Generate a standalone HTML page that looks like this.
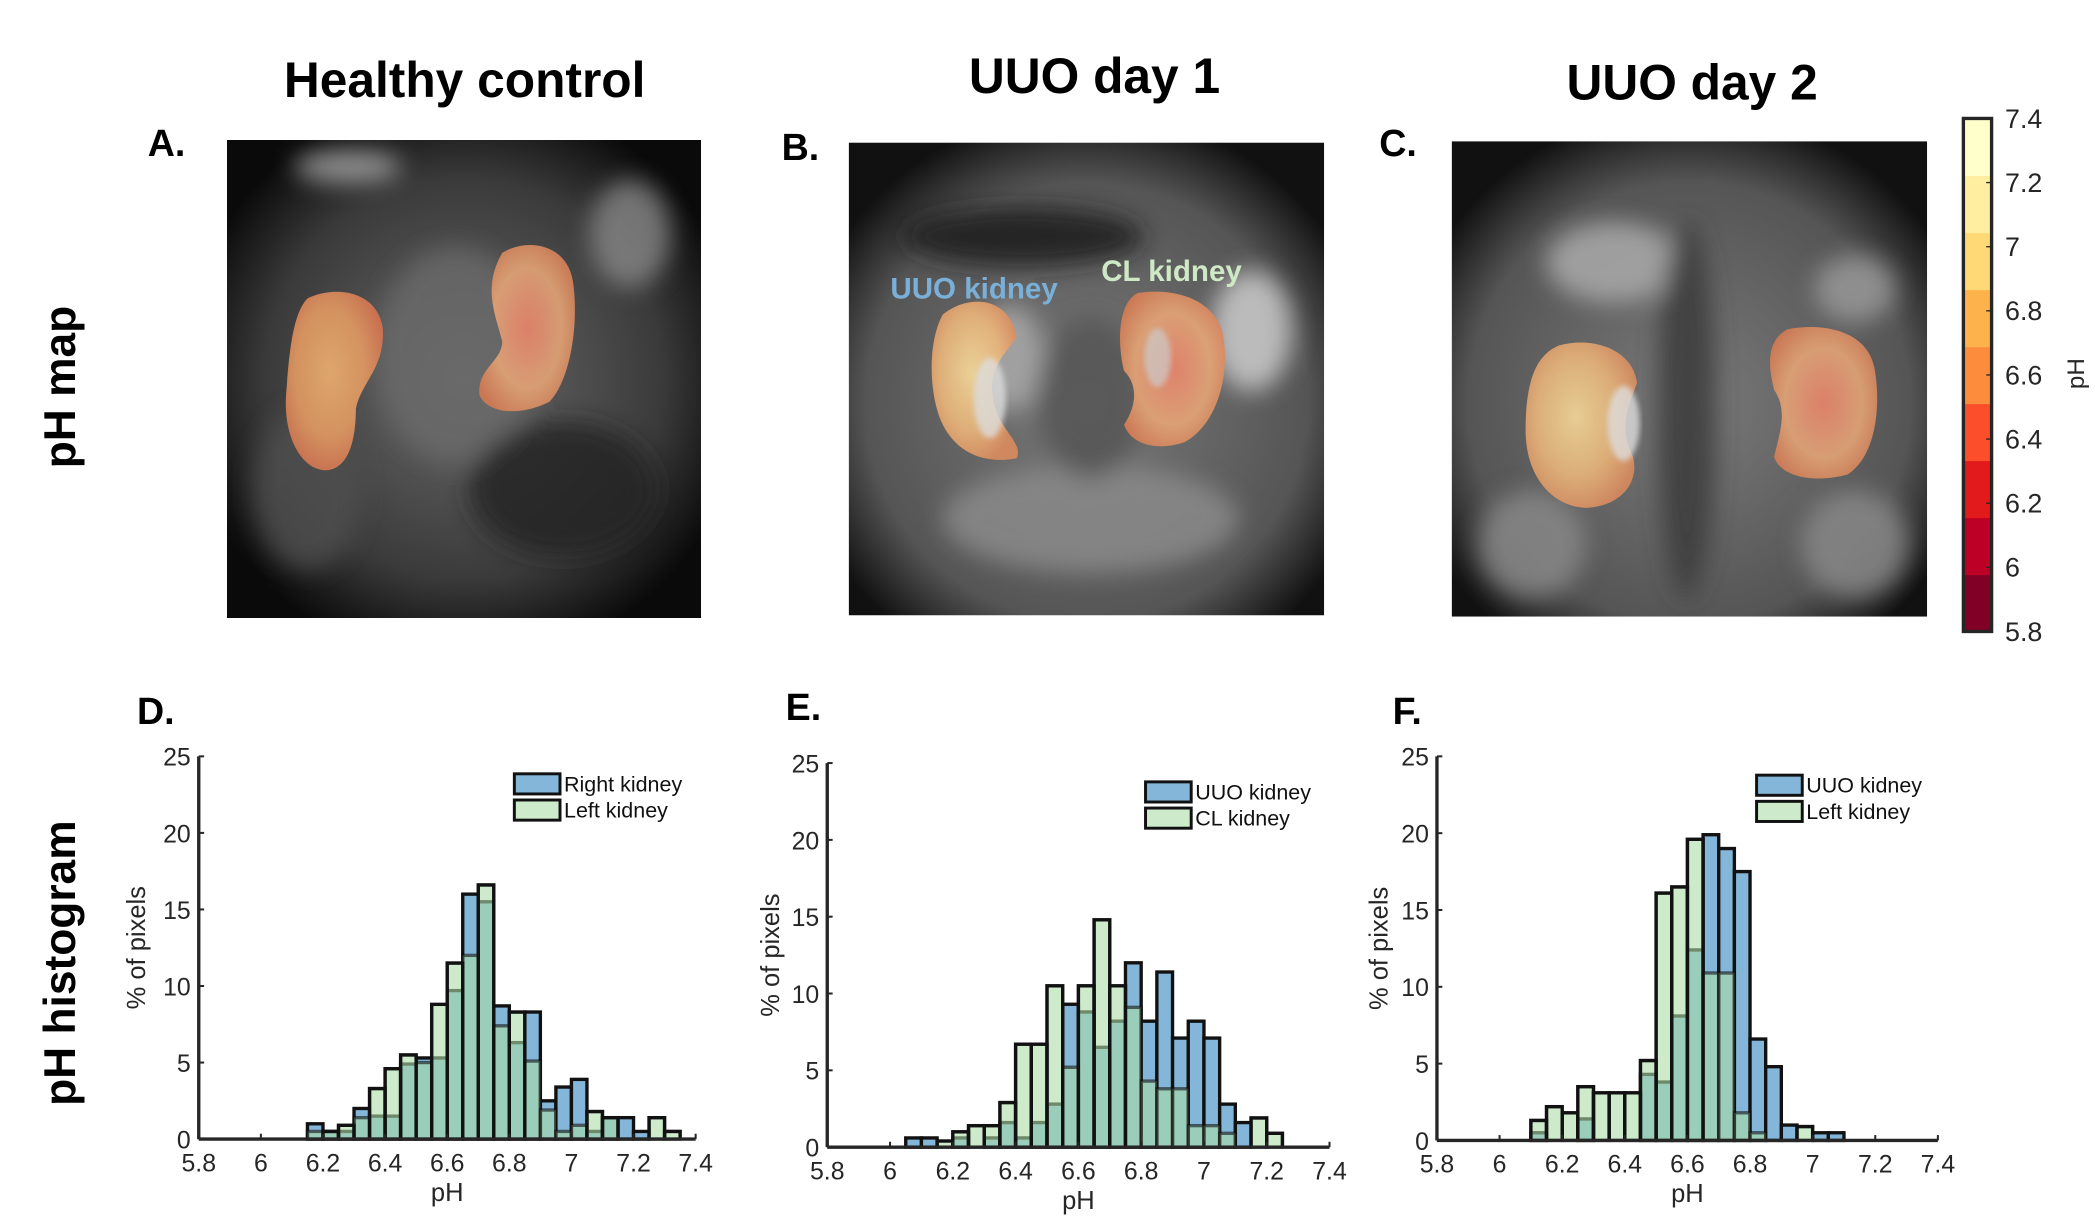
<!DOCTYPE html>
<html><head><meta charset="utf-8"><style>
html,body{margin:0;padding:0;background:#fff;}
svg{display:block;font-family:"Liberation Sans",Arial,sans-serif;}
</style></head><body>
<svg id="fig" width="2095" height="1228" viewBox="0 0 1560 914" xmlns="http://www.w3.org/2000/svg">
<defs>
<filter id="bl" x="-20%" y="-20%" width="140%" height="140%"><feGaussianBlur stdDeviation="9"/></filter>
<filter id="bl2"><feGaussianBlur stdDeviation="2"/></filter>
<radialGradient id="fogA" cx="50%" cy="50%" r="60%"><stop offset="0" stop-color="#6a6a6a"/><stop offset="0.7" stop-color="#3a3a3a"/><stop offset="1" stop-color="#0a0a0a"/></radialGradient>
<radialGradient id="fogB" cx="50%" cy="55%" r="62%"><stop offset="0" stop-color="#7a7a7a"/><stop offset="0.75" stop-color="#555"/><stop offset="1" stop-color="#111"/></radialGradient>
<radialGradient id="kid" cx="45%" cy="45%" r="60%"><stop offset="0" stop-color="#f4d898"/><stop offset="0.6" stop-color="#e9b57a"/><stop offset="1" stop-color="#d98a5e"/></radialGradient>
<radialGradient id="kidA" cx="45%" cy="45%" r="60%"><stop offset="0" stop-color="#eeb070"/><stop offset="0.6" stop-color="#e39a62"/><stop offset="1" stop-color="#d4704e"/></radialGradient>
<radialGradient id="kid2" cx="50%" cy="50%" r="60%"><stop offset="0" stop-color="#e9836a"/><stop offset="0.6" stop-color="#e4a476"/><stop offset="1" stop-color="#d47a52"/></radialGradient>
</defs>

<text x="346" y="72" font-size="37" font-weight="bold" text-anchor="middle">Healthy control</text>
<text x="815" y="69" font-size="37" font-weight="bold" text-anchor="middle">UUO day 1</text>
<text x="1260" y="74" font-size="37" font-weight="bold" text-anchor="middle">UUO day 2</text>
<text x="56" y="288" font-size="33" font-weight="bold" text-anchor="middle" transform="rotate(-90 56 288)">pH map</text>
<text x="56" y="717" font-size="33" font-weight="bold" text-anchor="middle" transform="rotate(-90 56 717)">pH histogram</text>

<text x="110" y="116" font-size="28" font-weight="bold">A.</text>
<text x="582" y="119" font-size="28" font-weight="bold">B.</text>
<text x="1027" y="116" font-size="28" font-weight="bold">C.</text>
<text x="102" y="539" font-size="28" font-weight="bold">D.</text>
<text x="585" y="536" font-size="28" font-weight="bold">E.</text>
<text x="1037" y="539" font-size="28" font-weight="bold">F.</text>

<g>
<svg x="169" y="104" width="353" height="356" overflow="hidden">
<rect width="353" height="356" fill="url(#fogA)"/>
<g filter="url(#bl)" opacity="0.8">
<ellipse cx="90" cy="20" rx="40" ry="12" fill="#aaa"/>
<ellipse cx="300" cy="70" rx="30" ry="40" fill="#888"/>
<ellipse cx="170" cy="160" rx="60" ry="80" fill="#6a6a6a"/>
<ellipse cx="250" cy="260" rx="70" ry="50" fill="#222"/>
<ellipse cx="60" cy="260" rx="40" ry="60" fill="#505050"/>
</g>
<path d="M60 118 C80 108 112 112 116 140 C118 170 100 180 96 200 C96 225 90 245 74 246 C55 246 42 220 44 190 C46 165 48 130 60 118Z" fill="url(#kidA)" opacity="0.9"/>
<path d="M205 84 C225 72 255 78 258 108 C262 140 255 180 240 195 C220 205 195 205 188 190 C186 170 205 165 205 150 C200 130 190 110 205 84Z" fill="url(#kid2)" opacity="0.9"/>
</svg></g>

<g>
<svg x="632" y="106" width="354" height="352" overflow="hidden">
<rect width="354" height="352" fill="url(#fogB)"/>
<g filter="url(#bl)" opacity="0.85">
<ellipse cx="130" cy="70" rx="90" ry="22" fill="#1a1a1a"/>
<ellipse cx="300" cy="140" rx="30" ry="45" fill="#ccc"/>
<ellipse cx="120" cy="160" rx="25" ry="40" fill="#aaa"/>
<ellipse cx="180" cy="280" rx="110" ry="40" fill="#8a8a8a"/>
<ellipse cx="180" cy="190" rx="40" ry="60" fill="#555"/>
</g>
<path d="M70 128 C90 112 120 115 125 145 C115 160 100 170 110 200 C115 215 130 225 125 235 C100 240 80 230 70 210 C60 190 58 150 70 128Z" fill="url(#kid)" opacity="0.92"/>
<path d="M215 112 C240 108 270 115 278 140 C285 170 275 210 250 223 C230 230 210 225 205 210 C215 195 215 180 205 170 C200 150 200 120 215 112Z" fill="url(#kid2)" opacity="0.92"/>
<ellipse cx="105" cy="190" rx="12" ry="30" fill="#ddd" opacity="0.8" filter="url(#bl2)"/>
<ellipse cx="230" cy="160" rx="10" ry="22" fill="#ccc" opacity="0.7" filter="url(#bl2)"/>
</svg>
<text x="663" y="222" font-size="22" font-weight="bold" fill="#7ab0d8">UUO kidney</text>
<text x="820" y="209" font-size="22" font-weight="bold" fill="#cfe9c6">CL kidney</text>
</g>

<g>
<svg x="1081" y="105" width="354" height="354" overflow="hidden">
<rect width="354" height="354" fill="url(#fogB)"/>
<g filter="url(#bl)" opacity="0.85">
<ellipse cx="120" cy="90" rx="50" ry="30" fill="#aaa"/>
<ellipse cx="175" cy="200" rx="22" ry="140" fill="#3a3a3a"/>
<ellipse cx="60" cy="300" rx="40" ry="40" fill="#888"/>
<ellipse cx="300" cy="300" rx="40" ry="40" fill="#888"/>
<ellipse cx="300" cy="110" rx="30" ry="25" fill="#999"/>
</g>
<path d="M80 152 C105 145 135 155 138 180 C130 200 125 215 135 235 C140 255 125 272 100 273 C75 272 55 250 55 215 C55 185 60 160 80 152Z" fill="url(#kid)" opacity="0.9"/>
<path d="M250 140 C275 135 310 140 315 170 C320 200 315 235 295 248 C270 255 245 250 240 235 C245 215 250 200 240 185 C235 165 235 148 250 140Z" fill="url(#kid2)" opacity="0.9"/>
<ellipse cx="128" cy="210" rx="12" ry="28" fill="#ddd" opacity="0.8" filter="url(#bl2)"/>
</svg></g>

<g id="cbar"></g>
<g id="hists"></g>
</svg>

<script>
const NS = "http://www.w3.org/2000/svg";
const cbarColors = ["#800026","#bd0026","#e31a1c","#fc4e2a","#fd8d3c","#feb24c","#fed976","#ffeda0","#ffffcc"];
const cbarTicks = [5.8,6,6.2,6.4,6.6,6.8,7,7.2,7.4];
const binsD = [6.15,6.20,6.25,6.30,6.35,6.40,6.45,6.50,6.55,6.60,6.65,6.70,6.75,6.80,6.85,6.90,6.95,7.00,7.05,7.10,7.15,7.20,7.25,7.30];
const rightD = [1.0,0.5,0.5,2.0,1.5,1.5,4.9,5.3,5.3,9.7,16.0,15.5,8.7,6.3,8.3,2.5,3.4,3.9,0.5,1.4,1.4,0.5,0,0];
const leftD  = [0.5,0.5,0.9,1.4,3.3,4.6,5.5,5.0,8.8,11.5,12.0,16.6,7.4,8.3,5.1,1.9,0.5,0.9,1.8,1.4,0,0,1.4,0.5];
const binsE = [6.05,6.10,6.15,6.20,6.25,6.30,6.35,6.40,6.45,6.50,6.55,6.60,6.65,6.70,6.75,6.80,6.85,6.90,6.95,7.00,7.05,7.10,7.15,7.20];
const uuoE = [0.6,0.6,0,0.6,0,0.6,1.6,0.6,1.6,2.8,9.3,8.8,6.5,8.2,12.0,8.2,11.4,7.1,8.2,7.1,2.8,1.6,0,0];
const clE  = [0,0,0.4,1.0,1.4,1.4,2.9,6.7,6.7,10.5,5.2,10.5,14.8,10.5,9.1,4.3,3.8,3.8,1.4,1.4,0.9,0,1.9,0.9];
const binsF = [6.10,6.15,6.20,6.25,6.30,6.35,6.40,6.45,6.50,6.55,6.60,6.65,6.70,6.75,6.80,6.85,6.90,6.95,7.00,7.05];
const uuoF  = [0.5,0,0,1.4,0,0,0,4.3,3.8,8.1,12.4,19.9,19.0,17.5,6.6,4.8,1.0,0,0.5,0.5];
const leftF = [1.3,2.2,1.8,3.5,3.1,3.1,3.1,5.2,16.1,16.5,19.6,10.9,10.9,1.8,0.5,0,0,0.9,0,0];
const xTicks = [5.8,6,6.2,6.4,6.6,6.8,7,7.2,7.4];
const xTickLabels = ["5.8","6","6.2","6.4","6.6","6.8","7","7.2","7.4"];
const yTicks = [0,5,10,15,20,25];
const binWidth = 0.05;

function mk(tag, attrs, parent){const e=document.createElementNS(NS,tag);for(const k in attrs)e.setAttribute(k,attrs[k]);parent.appendChild(e);return e;}

(function(){
  const g=document.getElementById('cbar');
  const x0=1462,w=21,top=88,bot=470,vmin=5.8,vmax=7.4;
  const yc=v=>bot-(v-vmin)/(vmax-vmin)*(bot-top);
  const n=cbarColors.length, step=(vmax-vmin)/n;
  cbarColors.forEach((c,i)=>{
    const r=mk('rect',{x:x0,y:yc(vmin+(i+1)*step),width:w,height:yc(vmin+i*step)-yc(vmin+(i+1)*step)+0.5,fill:c},g);
    
    
  });
  mk('rect',{x:x0,y:top,width:w,height:bot-top,fill:'none',stroke:'#262626','stroke-width':2.5},g);
  cbarTicks.forEach(v=>{
    mk('line',{x1:x0+w-4,x2:x0+w,y1:yc(v),y2:yc(v),stroke:'#262626','stroke-width':1},g);
    const t=mk('text',{x:1493,y:yc(v)+7,'font-size':20,fill:'#262626'},g);
    t.textContent=String(v);
    
    
  });
  const t=mk('text',{x:1552,y:278,'font-size':18,fill:'#262626','text-anchor':'middle',transform:'rotate(-90 1552 278)'},g);
  t.textContent='pH';
  
  
})();

function hist(id, L, R, y0, y25, bins, blue, green, names, legX, legY, ylabX){
  const root=document.getElementById('hists');
  const g=mk('g',{},root);
  
  
  const xs=v=>L+(v-5.8)/1.6*(R-L);
  const ys=v=>y0-v/25*(y0-y25);
  bins.forEach((b,i)=>{ if(blue[i]<=0) return;
    const r=mk('rect',{x:xs(b),y:ys(blue[i]),width:xs(b+binWidth)-xs(b),height:ys(0)-ys(blue[i]),fill:'#83b6d8',stroke:'#111','stroke-width':2.5},g);
    
    
  });
  bins.forEach((b,i)=>{ if(green[i]<=0) return;
    const r=mk('rect',{x:xs(b),y:ys(green[i]),width:xs(b+binWidth)-xs(b),height:ys(0)-ys(green[i]),fill:'rgba(172,220,168,0.6)',stroke:'rgba(17,17,17,0.6)','stroke-width':2.5},g);
    
    
  });
  bins.forEach((b,i)=>{ if(green[i]<=0||green[i]<blue[i]) return;
    mk('polyline',{points:`${xs(b)},${ys(0)} ${xs(b)},${ys(green[i])} ${xs(b+binWidth)},${ys(green[i])} ${xs(b+binWidth)},${ys(0)}`,fill:'none',stroke:'#111','stroke-width':2.5},g);
  });
  mk('line',{x1:L,x2:R,y1:y0,y2:y0,stroke:'#262626','stroke-width':2.5},g);
  mk('line',{x1:L,x2:L,y1:y0,y2:y25,stroke:'#262626','stroke-width':2.5},g);
  xTicks.forEach((v,i)=>{
    mk('line',{x1:xs(v),x2:xs(v),y1:y0,y2:y0-4,stroke:'#262626','stroke-width':1.5},g);
    const t=mk('text',{x:xs(v),y:y0+24,'font-size':18.5,fill:'#262626','text-anchor':'middle'},g);
    t.textContent=xTickLabels[i];
    
    
  });
  yTicks.forEach(v=>{
    mk('line',{x1:L,x2:L+4,y1:ys(v),y2:ys(v),stroke:'#262626','stroke-width':1.5},g);
    const t=mk('text',{x:L-6,y:ys(v)+7,'font-size':18.5,fill:'#262626','text-anchor':'end'},g);
    t.textContent=String(v);
    
    
  });
  const xl=mk('text',{x:(L+R)/2,y:y0+46,'font-size':19,fill:'#262626','text-anchor':'middle'},g);
  xl.textContent='pH';
  
  
  const ym=(y0+y25)/2;
  const yl=mk('text',{x:ylabX,y:ym,'font-size':19,fill:'#262626','text-anchor':'middle',transform:`rotate(-90 ${ylabX} ${ym})`},g);
  yl.textContent='% of pixels';
  
  
  [['#83b6d8',names[0]],['#cdeacb',names[1]]].forEach((e,i)=>{
    const lg=mk('g',{},g);
    
    
    mk('rect',{x:legX,y:legY+i*19.5,width:34,height:15,fill:e[0],stroke:'#111','stroke-width':2.2},lg);
    const t=mk('text',{x:legX+37,y:legY+i*19.5+13,'font-size':16,fill:'#111'},lg);
    t.textContent=e[1];
  });
}
hist('histogram-healthy',148,518,848,563,binsD,rightD,leftD,['Right kidney','Left kidney'],383,576,108);
hist('histogram-uuo-day-1',616,990,854,568,binsE,uuoE,clE,['UUO kidney','CL kidney'],853,582,580);
hist('histogram-uuo-day-2',1070,1443,849,563,binsF,uuoF,leftF,['UUO kidney','Left kidney'],1308,577,1033);
</script>
</body></html>
